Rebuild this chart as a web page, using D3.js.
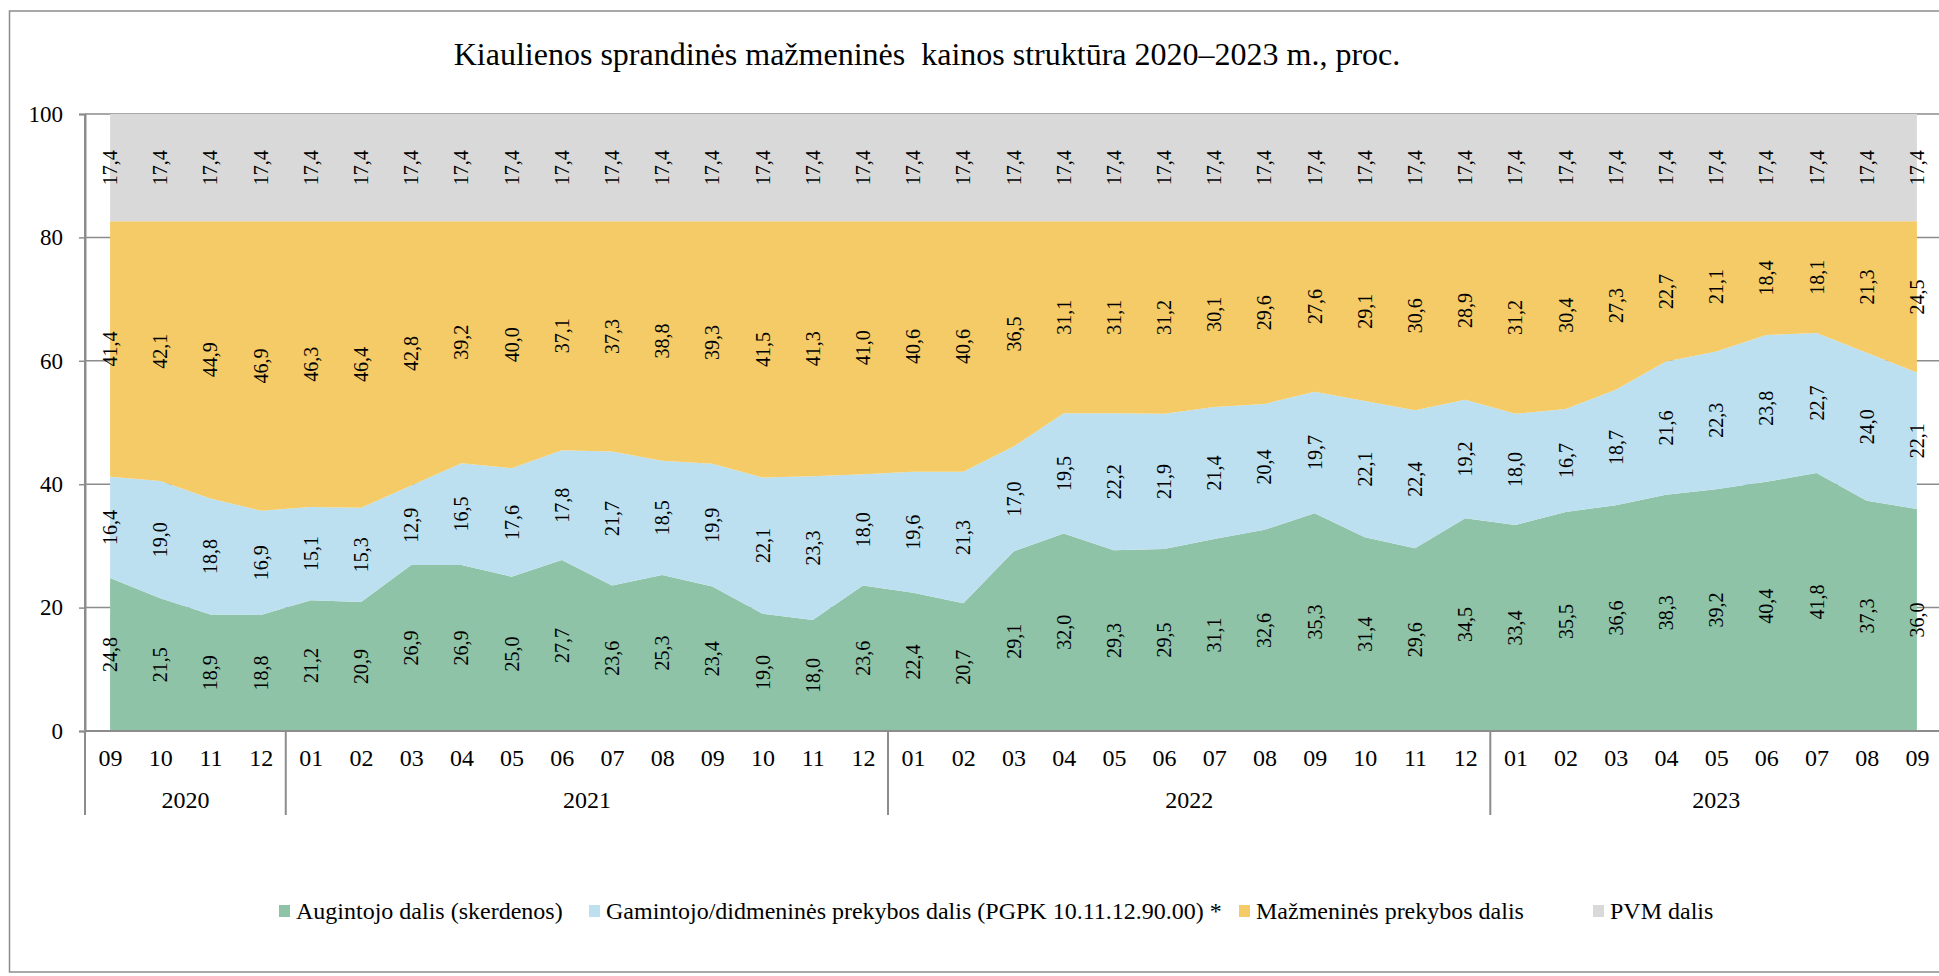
<!DOCTYPE html>
<html>
<head>
<meta charset="utf-8">
<script src="https://cdn.jsdelivr.net/npm/d3@7"></script>
<style>
  body { margin: 0; background: #fff; }
  svg text { font-family: "Liberation Serif", "Times New Roman", serif; fill: #000; }
</style>
</head>
<body>
<svg id="chart" width="1939" height="976"></svg>
<script>
// periods (year-month)
const periods = [
  "2020-09", "2020-10", "2020-11", "2020-12",
  "2021-01", "2021-02", "2021-03", "2021-04", "2021-05", "2021-06",
  "2021-07", "2021-08", "2021-09", "2021-10", "2021-11", "2021-12",
  "2022-01", "2022-02", "2022-03", "2022-04", "2022-05", "2022-06",
  "2022-07", "2022-08", "2022-09", "2022-10", "2022-11", "2022-12",
  "2023-01", "2023-02", "2023-03", "2023-04", "2023-05", "2023-06",
  "2023-07", "2023-08", "2023-09"
]
const years = ["2020", "2021", "2022", "2023"]

// shares, %
const augintojo = [
  24.8, 21.5, 18.9, 18.8,
  21.2, 20.9, 26.9, 26.9, 25.0, 27.7, 23.6, 25.3, 23.4, 19.0, 18.0, 23.6,
  22.4, 20.7, 29.1, 32.0, 29.3, 29.5, 31.1, 32.6, 35.3, 31.4, 29.6, 34.5,
  33.4, 35.5, 36.6, 38.3, 39.2, 40.4, 41.8, 37.3, 36.0
]
const gamintojo = [
  16.4, 19.0, 18.8, 16.9,
  15.1, 15.3, 12.9, 16.5, 17.6, 17.8, 21.7, 18.5, 19.9, 22.1, 23.3, 18.0,
  19.6, 21.3, 17.0, 19.5, 22.2, 21.9, 21.4, 20.4, 19.7, 22.1, 22.4, 19.2,
  18.0, 16.7, 18.7, 21.6, 22.3, 23.8, 22.7, 24.0, 22.1
]
const mazmenine = [
  41.4, 42.1, 44.9, 46.9,
  46.3, 46.4, 42.8, 39.2, 40.0, 37.1, 37.3, 38.8, 39.3, 41.5, 41.3, 41.0,
  40.6, 40.6, 36.5, 31.1, 31.1, 31.2, 30.1, 29.6, 27.6, 29.1, 30.6, 28.9,
  31.2, 30.4, 27.3, 22.7, 21.1, 18.4, 18.1, 21.3, 24.5
]
const pvm = [
  17.4, 17.4, 17.4, 17.4,
  17.4, 17.4, 17.4, 17.4, 17.4, 17.4, 17.4, 17.4, 17.4, 17.4, 17.4, 17.4,
  17.4, 17.4, 17.4, 17.4, 17.4, 17.4, 17.4, 17.4, 17.4, 17.4, 17.4, 17.4,
  17.4, 17.4, 17.4, 17.4, 17.4, 17.4, 17.4, 17.4, 17.4
]
const yTicks = [0, 20, 40, 60, 80, 100]

const seriesNames = [
  "Augintojo dalis (skerdenos)",
  "Gamintojo/didmeninės prekybos dalis (PGPK 10.11.12.90.00) *",
  "Mažmeninės prekybos dalis",
  "PVM dalis"
]
const colors = ["#8ec3a8", "#bde0f0", "#f4cb67", "#d9d9d9"]
const title = "Kiaulienos sprandinės mažmeninės  kainos struktūra 2020–2023 m., proc."

const pLeft = 85, pRight = 1942, pTop = 114, pBottom = 731
const axisColor = "#8c8c8c"

const table = periods.map((p, i) => ({
  period: p, s0: augintojo[i], s1: gamintojo[i], s2: mazmenine[i], s3: pvm[i]
}))
const keys = ["s0", "s1", "s2", "s3"]
const stacked = d3.stack().keys(keys)(table)

const svg = d3.select("#chart")

// outer frame
svg.append("rect")
  .attr("x", 9.5).attr("y", 11)
  .attr("width", 1960).attr("height", 961)
  .attr("fill", "none")
  .attr("stroke", "#8c8c8c")
  .attr("stroke-width", 1.5)

svg.append("text")
  .attr("x", 927).attr("y", 65)
  .attr("text-anchor", "middle")
  .style("font-size", "32px")
  .style("white-space", "pre")
  .text(title)

const x = d3.scalePoint().domain(periods).range([pLeft, pRight]).padding(0.5)
const y = d3.scaleLinear().domain([0, 100]).range([pBottom, pTop])
const step = x.step()

// gridlines
svg.append("g")
  .selectAll("line")
  .data(yTicks)
  .join("line")
  .attr("x1", pLeft).attr("x2", pRight)
  .attr("y1", d => y(d)).attr("y2", d => y(d))
  .attr("stroke", axisColor)
  .attr("stroke-width", 1.5)

const area = d3.area()
  .x(d => x(d.data.period))
  .y0(d => y(d[0]))
  .y1(d => y(d[1]))

svg.append("g")
  .selectAll("path")
  .data(stacked)
  .join("path")
  .attr("d", area)
  .attr("fill", (d, i) => colors[i])

// bottom axis line over areas
svg.append("line")
  .attr("x1", pLeft).attr("x2", pRight)
  .attr("y1", y(0)).attr("y2", y(0))
  .attr("stroke", axisColor)
  .attr("stroke-width", 2)

// data labels
const labels = svg.append("g")
stacked.forEach((s) => {
  labels.append("g")
    .selectAll("text")
    .data(s)
    .join("text")
    .attr("transform", d => `translate(${x(d.data.period)},${y((d[0] + d[1]) / 2)}) rotate(-90)`)
    .attr("text-anchor", "middle")
    .attr("dy", "0.35em")
    .style("font-size", "20px")
    .text(d => d3.format(".1f")(d[1] - d[0]).replace(".", ","))
})

// y axis
const yAxis = svg.append("g")
  .attr("transform", `translate(${pLeft},0)`)
  .call(d3.axisLeft(y).tickValues(yTicks).tickSize(6).tickPadding(16))
yAxis.attr("font-family", null).attr("font-size", null)
yAxis.select(".domain").attr("stroke", axisColor).attr("stroke-width", 2)
yAxis.selectAll(".tick line").attr("stroke", axisColor).attr("stroke-width", 1.5)
yAxis.selectAll(".tick text").style("font-size", "23px")

// x axis months
const xAxis = svg.append("g")
  .attr("transform", `translate(0,${pBottom})`)
  .call(d3.axisBottom(x).tickSize(0).tickFormat(d => d.slice(5)))
xAxis.attr("font-family", null).attr("font-size", null)
xAxis.select(".domain").remove()
xAxis.selectAll(".tick text")
  .attr("y", 27)
  .attr("dy", "0.35em")
  .style("font-size", "24px")

// year groups
const yearInfo = years.map(yr => {
  const ps = periods.filter(p => p.startsWith(yr))
  return { year: yr, x0: x(ps[0]) - step / 2, x1: x(ps[ps.length - 1]) + step / 2 }
})
svg.append("g")
  .selectAll("line")
  .data(yearInfo)
  .join("line")
  .attr("x1", d => d.x0).attr("x2", d => d.x0)
  .attr("y1", (d, i) => i === 0 ? pTop : pBottom)
  .attr("y2", 815)
  .attr("stroke", axisColor)
  .attr("stroke-width", 2)
svg.append("g")
  .selectAll("text")
  .data(yearInfo)
  .join("text")
  .attr("x", d => (d.x0 + d.x1) / 2)
  .attr("y", 800)
  .attr("dy", "0.35em")
  .attr("text-anchor", "middle")
  .style("font-size", "24px")
  .text(d => d.year)

// legend
const legendX = [279, 589, 1239, 1593]
const legend = svg.append("g")
  .selectAll("g")
  .data(seriesNames)
  .join("g")
  .attr("transform", (d, i) => `translate(${legendX[i]},911)`)
legend.append("rect")
  .attr("x", 0).attr("y", -6)
  .attr("width", 11).attr("height", 12)
  .attr("fill", (d, i) => colors[i])
legend.append("text")
  .attr("x", 17)
  .attr("dy", "0.35em")
  .style("font-size", "24px")
  .text(d => d)
</script>
</body>
</html>
